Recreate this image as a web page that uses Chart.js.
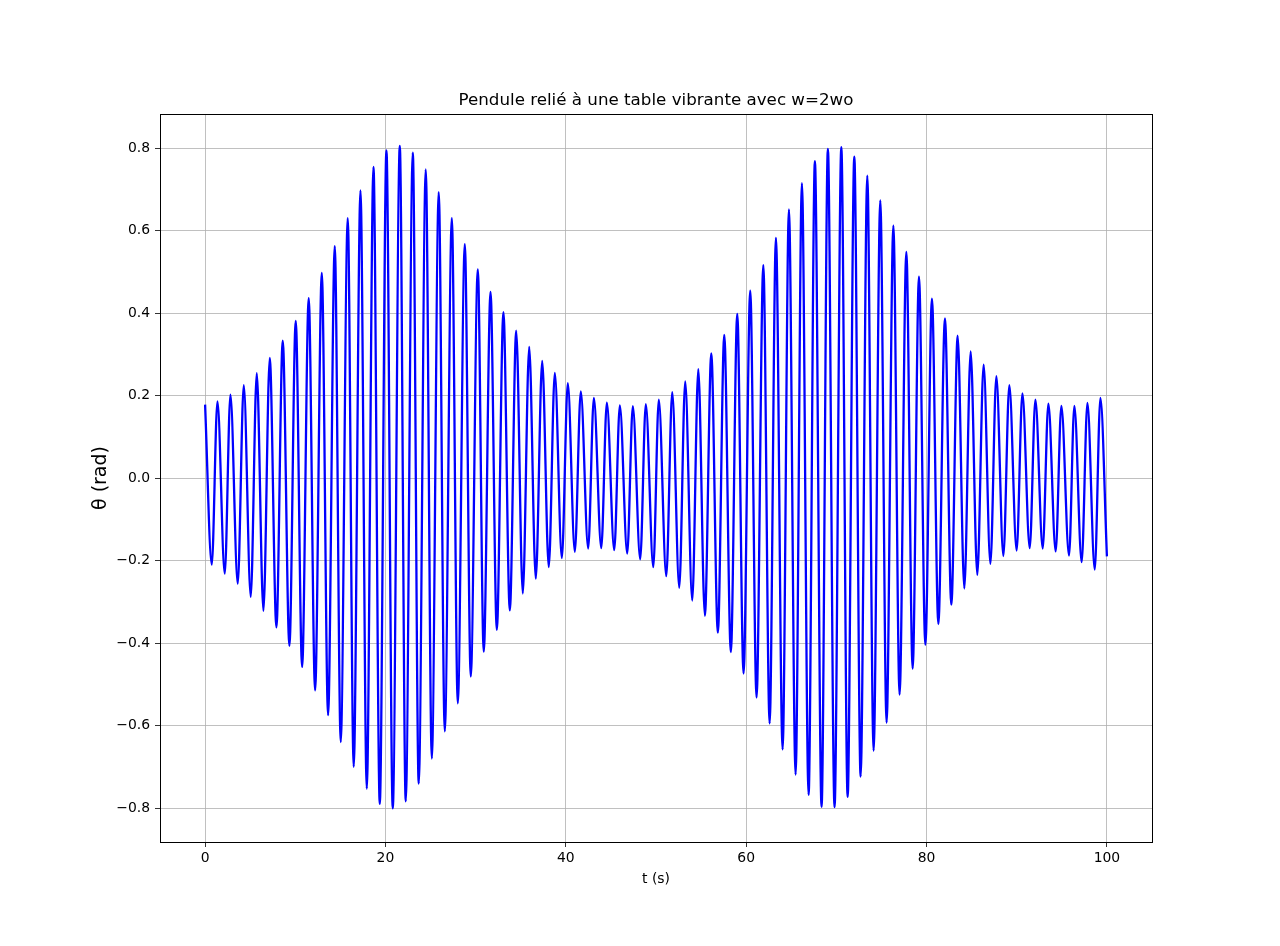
<!DOCTYPE html>
<html>
<head>
<meta charset="utf-8">
<title>Pendule relié à une table vibrante</title>
<script src="https://cdn.jsdelivr.net/npm/chart.js@4.4.1/dist/chart.umd.min.js"></script>
<style>
    html, body { margin: 0; padding: 0; background: #fff; }
    #wrap { width: 1280px; height: 946px; position: relative; }
</style>
</head>
<body>
<div id="wrap"><canvas id="pendulum-chart"></canvas></div>
<script>
// --- Data (local maxima / minima of theta(t)) ---
const peakTimes = [0, 1.37, 2.81, 4.29, 5.73, 7.17, 8.61, 10.05, 11.49, 12.94,
    14.38, 15.82, 17.23, 18.67, 20.11, 21.59, 23.03, 24.47, 25.91, 27.36,
    28.80, 30.24, 31.65, 33.08, 34.50, 35.94, 37.38, 38.78, 40.22, 41.66,
    43.11, 44.55, 45.99, 47.43, 48.87, 50.31, 51.80, 53.24, 54.69, 56.13,
    57.57, 59.01, 60.45, 61.90, 63.30, 64.74, 66.18, 67.62, 69.06, 70.55,
    71.99, 73.43, 74.87, 76.32, 77.76, 79.16, 80.60, 82.04, 83.45, 84.89,
    86.33, 87.74, 89.18, 90.63, 92.07, 93.51, 94.95, 96.39, 97.84, 99.28];
const peakValues = [0.178, 0.186, 0.202, 0.225, 0.254, 0.291, 0.333, 0.381, 0.436, 0.497,
    0.562, 0.630, 0.697, 0.754, 0.794, 0.805, 0.789, 0.748, 0.693, 0.630,
    0.567, 0.506, 0.451, 0.402, 0.357, 0.318, 0.284, 0.255, 0.230, 0.210,
    0.194, 0.183, 0.176, 0.174, 0.179, 0.190, 0.208, 0.234, 0.264, 0.302,
    0.347, 0.398, 0.454, 0.516, 0.582, 0.651, 0.715, 0.768, 0.798, 0.802,
    0.779, 0.733, 0.673, 0.612, 0.548, 0.488, 0.435, 0.387, 0.345, 0.307,
    0.275, 0.247, 0.225, 0.205, 0.190, 0.180, 0.175, 0.175, 0.182, 0.194];

const troughTimes = [0.74, 2.18, 3.62, 5.06, 6.47, 7.91, 9.35, 10.76, 12.20, 13.64,
    15.04, 16.48, 17.93, 19.37, 20.81, 22.25, 23.69, 25.14, 26.58, 28.02,
    29.46, 30.90, 32.35, 33.79, 35.23, 36.67, 38.11, 39.56, 41.00, 42.48,
    43.93, 45.37, 46.81, 48.25, 49.70, 51.14, 52.58, 54.02, 55.42, 56.86,
    58.30, 59.71, 61.15, 62.60, 64.04, 65.48, 66.92, 68.36, 69.80, 71.25,
    72.69, 74.13, 75.57, 77.01, 78.46, 79.87, 81.31, 82.75, 84.19, 85.63,
    87.08, 88.52, 89.99, 91.44, 92.88, 94.32, 95.80, 97.20, 98.65];
const troughValues = [-0.210, -0.232, -0.256, -0.288, -0.322, -0.362, -0.407, -0.458, -0.515, -0.575,
    -0.640, -0.700, -0.753, -0.790, -0.801, -0.784, -0.741, -0.680, -0.614, -0.546,
    -0.481, -0.421, -0.368, -0.321, -0.280, -0.244, -0.216, -0.194, -0.179, -0.171,
    -0.170, -0.175, -0.183, -0.197, -0.216, -0.238, -0.266, -0.297, -0.334, -0.375,
    -0.422, -0.474, -0.532, -0.595, -0.658, -0.719, -0.768, -0.797, -0.798, -0.773,
    -0.724, -0.661, -0.593, -0.525, -0.462, -0.404, -0.354, -0.307, -0.268, -0.235,
    -0.208, -0.189, -0.176, -0.170, -0.171, -0.178, -0.188, -0.204, -0.222];

// last sample of the simulation
const endTimes = [100];
const endValues = [-0.19];

const xTicks = [0, 20, 40, 60, 80, 100];
const yTicks = [-0.8, -0.6, -0.4, -0.2, 0.0, 0.2, 0.4, 0.6, 0.8];

// --- Build the point table for the line ---
const points = [];
peakTimes.forEach((t, i) => points.push({ x: t, y: peakValues[i] }));
troughTimes.forEach((t, i) => points.push({ x: t, y: troughValues[i] }));
endTimes.forEach((t, i) => points.push({ x: t, y: endValues[i] }));
points.sort((a, b) => a.x - b.x);

const FONT = 'DejaVu Sans';

// draws the full axes box (matplotlib spines)
const frameBox = {
    id: 'frameBox',
    afterDraw(chart) {
        const { ctx, chartArea: a } = chart;
        ctx.save();
        ctx.strokeStyle = '#000';
        ctx.lineWidth = 1;
        ctx.strokeRect(Math.round(a.left) + 0.5, Math.round(a.top) + 0.5,
            Math.round(a.right - a.left), Math.round(a.bottom - a.top));
        ctx.restore();
    }
};

new Chart(document.getElementById('pendulum-chart'), {
    type: 'line',
    data: {
        datasets: [{
            data: points,
            borderColor: '#0000ff',
            borderWidth: 2.3,
            pointRadius: 0,
            fill: false,
            cubicInterpolationMode: 'monotone',
        }]
    },
    options: {
        responsive: true,
        maintainAspectRatio: false,
        animation: false,
        layout: { padding: { left: 0, right: 128, top: 0, bottom: 0 } },
        plugins: {
            legend: { display: false },
            tooltip: { enabled: false },
            title: {
                display: true,
                fullSize: false,
                text: 'Pendule relié à une table vibrante avec w=2wo',
                color: '#000',
                font: { family: FONT, size: 16.7, weight: 'normal' },
                padding: { top: 91, bottom: 3 },
            }
        },
        scales: {
            x: {
                type: 'linear',
                min: -5,
                max: 105,
                afterBuildTicks: (scale) => { scale.ticks = xTicks.map(v => ({ value: v })); },
                afterFit: (scale) => { scale.height = 104; },
                ticks: {
                    color: '#000',
                    font: { family: FONT, size: 13.9 },
                    padding: 3,
                    maxRotation: 0,
                    callback: (v) => String(v),
                },
                grid: { color: '#b0b0b0', lineWidth: 0.8, tickColor: '#000', tickLength: 5 },
                border: { display: false },
                title: {
                    display: true,
                    text: 't (s)',
                    color: '#000',
                    font: { family: FONT, size: 13.9 },
                    padding: { top: 0, bottom: 58 },
                }
            },
            y: {
                type: 'linear',
                min: -0.8824,
                max: 0.8824,
                afterBuildTicks: (scale) => { scale.ticks = yTicks.map(v => ({ value: v })); },
                afterFit: (scale) => { scale.width = 160; },
                ticks: {
                    color: '#000',
                    font: { family: FONT, size: 13.9 },
                    padding: 5,
                    callback: (v) => (Math.abs(v) < 1e-9 ? 0 : v).toFixed(1).replace('-', '\u2212'),
                },
                grid: { color: '#b0b0b0', lineWidth: 0.8, tickColor: '#000', tickLength: 5 },
                border: { display: false },
                title: {
                    display: true,
                    text: 'θ (rad)',
                    color: '#000',
                    font: { family: FONT, size: 19 },
                    padding: { top: 90, bottom: 0 },
                }
            }
        }
    },
    plugins: [frameBox]
});
</script>
</body>
</html>
